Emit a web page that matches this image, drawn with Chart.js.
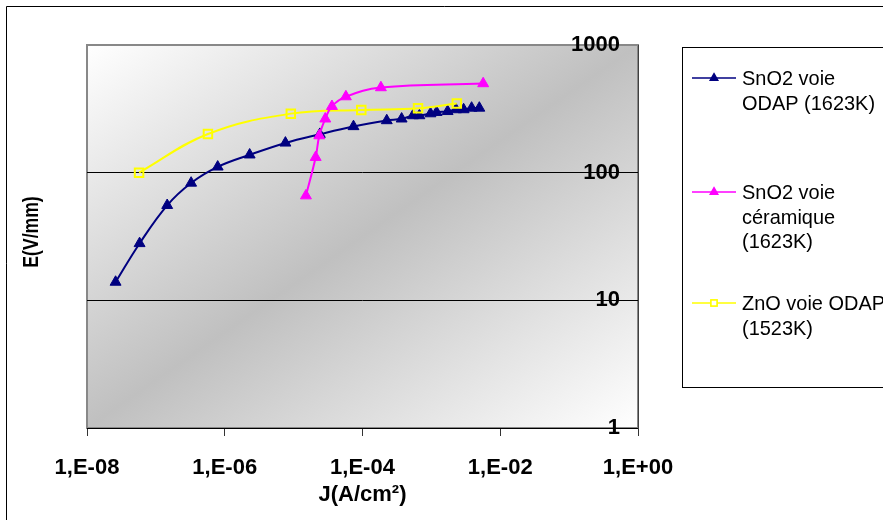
<!DOCTYPE html>
<html>
<head>
<meta charset="utf-8">
<script src="https://cdn.jsdelivr.net/npm/chart.js@4.4.0/dist/chart.umd.min.js"></script>
<style>
  html, body { margin: 0; padding: 0; background: #fff; }
</style>
</head>
<body>
<canvas id="chart" width="883" height="520"></canvas>
<script>
// values: J (A/cm2) and E (V/mm)
var odapJ = [2.6e-8, 5.8e-8, 1.46e-7, 3.25e-7, 7.9e-7, 2.3e-6, 7.6e-6, 2.4e-5, 7.4e-5,
             2.25e-4, 3.7e-4, 5.4e-4, 6.7e-4, 9.7e-4, 1.19e-3, 1.72e-3, 2.28e-3, 2.94e-3, 3.84e-3, 4.97e-3];
var odapE = [13.9, 27.9, 55.5, 83, 111, 138, 171, 200, 230,
             256, 264, 280, 280, 290, 297, 302, 312, 312, 321, 321];

var ceramJ = [1.51e-5, 2.09e-5, 2.36e-5, 2.88e-5, 3.6e-5, 5.74e-5, 1.85e-4, 5.65e-3];
var ceramE = [66, 132, 195, 264, 331, 394, 464, 499];

var znoJ = [5.7e-8, 5.7e-7, 9.1e-6, 9.6e-5, 6.4e-4, 2.34e-3];
var znoE = [100, 201, 290, 310, 319, 348];

var seriesNames = ['SnO2 voie ODAP (1623K)', 'SnO2 voie céramique (1623K)', 'ZnO voie ODAP (1523K)'];
var legendLines = [['SnO2 voie', 'ODAP (1623K)'], ['SnO2 voie', 'céramique', '(1623K)'], ['ZnO voie ODAP', '(1523K)']];

var xTicks = [1e-8, 1e-6, 1e-4, 1e-2, 1];
var xTickLabels = ['1,E-08', '1,E-06', '1,E-04', '1,E-02', '1,E+00'];
var yTicks = [1, 10, 100, 1000];
var yTickLabels = ['1', '10', '100', '1000'];

function pairs(xs, ys) {
    return xs.map(function(x, i) { return {x: x, y: ys[i]}; });
}

Chart.defaults.font.family = '"Liberation Sans", Arial, sans-serif';
Chart.defaults.color = '#000';

// background, frame, y title and the boxed legend
var decor = {
    id: 'decor',
    beforeDraw: function(chart) {
        var ctx = chart.ctx, a = chart.chartArea;
        var w = a.right - a.left, h = a.bottom - a.top;
        var cx = a.left + w / 2, cy = a.top + h / 2;
        var k = w * h / (w * w + h * h);
        var g = ctx.createLinearGradient(cx - h * k, cy - w * k, cx + h * k, cy + w * k);
        g.addColorStop(0, '#ffffff');
        g.addColorStop(0.5, '#c0c0c0');
        g.addColorStop(1, '#ffffff');
        ctx.save();
        ctx.fillStyle = g;
        ctx.fillRect(a.left, a.top, w, h);
        ctx.strokeStyle = '#888';
        ctx.lineWidth = 2;
        ctx.strokeRect(a.left, a.top, w, h);

        // outer chart frame (only top and left are visible)
        ctx.strokeStyle = '#000';
        ctx.lineWidth = 1;
        ctx.beginPath();
        ctx.moveTo(6.5, 520);
        ctx.lineTo(6.5, 6.5);
        ctx.lineTo(883, 6.5);
        ctx.stroke();
        ctx.restore();
    },
    afterDraw: function(chart) {
        var ctx = chart.ctx;
        ctx.save();

        // y axis title
        ctx.translate(32, 232);
        ctx.rotate(-Math.PI / 2);
        ctx.scale(0.8, 1);
        ctx.font = 'bold 22px "Liberation Sans", Arial, sans-serif';
        ctx.fillStyle = '#000';
        ctx.textAlign = 'center';
        ctx.textBaseline = 'middle';
        ctx.fillText('E(V/mm)', 0, 0);
        ctx.restore();

        // legend box
        ctx.save();
        ctx.fillStyle = '#fff';
        ctx.fillRect(682, 47, 210, 340);
        ctx.strokeStyle = '#000';
        ctx.lineWidth = 1;
        ctx.strokeRect(682.5, 47.5, 210, 340);

        var baselines = [85, 199, 310];
        chart.data.datasets.forEach(function(ds, i) {
            var ly = baselines[i] - 7;
            ctx.strokeStyle = ds.borderColor;
            ctx.lineWidth = 1.5;
            ctx.beginPath();
            ctx.moveTo(692, ly);
            ctx.lineTo(736, ly);
            ctx.stroke();
            Chart.helpers.drawPoint(ctx, {
                pointStyle: ds.pointStyle,
                radius: 4.3,
                rotation: 0,
                borderWidth: 1.5
            }, 714, ly);
            ctx.fillStyle = ds.pointBackgroundColor;
            ctx.strokeStyle = ds.pointBorderColor;
            if (ds.pointStyle === 'triangle') {
                ctx.fill();
            } else {
                ctx.fillStyle = '#fff';
                ctx.fill();
                ctx.lineWidth = 1.5;
                ctx.stroke();
            }

            ctx.fillStyle = '#000';
            ctx.font = '21px "Liberation Sans", Arial, sans-serif';
            ctx.textAlign = 'left';
            ctx.textBaseline = 'alphabetic';
            legendLines[i].forEach(function(line, j) {
                ctx.save();
                ctx.translate(742, baselines[i] + j * 24.5);
                ctx.scale(0.95, 1);
                ctx.fillText(line, 0, 0);
                ctx.restore();
            });
        });
        ctx.restore();
    }
};

var datasets = [
    {
        label: seriesNames[0],
        data: pairs(odapJ, odapE),
        borderColor: '#000080',
        backgroundColor: '#000080',
        pointBackgroundColor: '#000080',
        pointBorderColor: '#000080',
        pointStyle: 'triangle',
        pointRadius: 6.3,
        pointBorderWidth: 1,
        borderWidth: 2,
        tension: 0.4,
        fill: false,
        order: 3
    },
    {
        label: seriesNames[1],
        data: pairs(ceramJ, ceramE),
        borderColor: '#ff00ff',
        backgroundColor: '#ff00ff',
        pointBackgroundColor: '#ff00ff',
        pointBorderColor: '#ff00ff',
        pointStyle: 'triangle',
        pointRadius: 6.3,
        pointBorderWidth: 1,
        borderWidth: 2,
        tension: 0.4,
        fill: false,
        order: 1
    },
    {
        label: seriesNames[2],
        data: pairs(znoJ, znoE),
        borderColor: '#ffff00',
        backgroundColor: '#ffff00',
        pointBackgroundColor: 'rgba(0,0,0,0)',
        pointBorderColor: '#ffff00',
        pointStyle: 'rect',
        pointRadius: 6,
        pointBorderWidth: 2,
        borderWidth: 2,
        tension: 0.4,
        fill: false,
        order: 2
    }
];

var ctx = document.getElementById('chart').getContext('2d');
new Chart(ctx, {
    type: 'line',
    data: {datasets: datasets},
    plugins: [decor],
    options: {
        responsive: false,
        animation: false,
        devicePixelRatio: 1,
        layout: {padding: {left: 87, top: 45, right: 245, bottom: 0}},
        plugins: {
            legend: {display: false},
            tooltip: {enabled: false}
        },
        scales: {
            x: {
                type: 'logarithmic',
                position: 'bottom',
                min: 1e-8,
                max: 1,
                afterBuildTicks: function(scale) {
                    scale.ticks = xTicks.map(function(v) { return {value: v}; });
                },
                afterFit: function(scale) { scale.height = 92; },
                ticks: {
                    autoSkip: false,
                    maxRotation: 0,
                    padding: 19,
                    font: {size: 22, weight: 'bold'},
                    callback: function(value, index) { return xTickLabels[index]; }
                },
                grid: {
                    drawOnChartArea: false,
                    drawTicks: true,
                    tickLength: 8,
                    color: '#333'
                },
                border: {display: true, color: '#000', width: 1},
                title: {
                    display: true,
                    text: 'J(A/cm²)',
                    font: {size: 22, weight: 'bold'},
                    padding: {top: 0, bottom: 12}
                }
            },
            y: {
                type: 'logarithmic',
                position: 'right',
                min: 1,
                max: 1000,
                afterBuildTicks: function(scale) {
                    scale.ticks = yTicks.map(function(v) { return {value: v}; });
                },
                afterFit: function(scale) { scale.width = 0; },
                ticks: {
                    mirror: true,
                    padding: -18,
                    font: {size: 22, weight: 'bold'},
                    callback: function(value, index) { return yTickLabels[index]; }
                },
                grid: {
                    drawTicks: false,
                    lineWidth: 1,
                    color: function(c) {
                        var v = c.tick && c.tick.value;
                        return (v === 1 || v === 1000) ? 'rgba(0,0,0,0)' : '#000';
                    }
                },
                border: {display: true, color: '#404040', width: 1}
            }
        }
    }
});
</script>
</body>
</html>
